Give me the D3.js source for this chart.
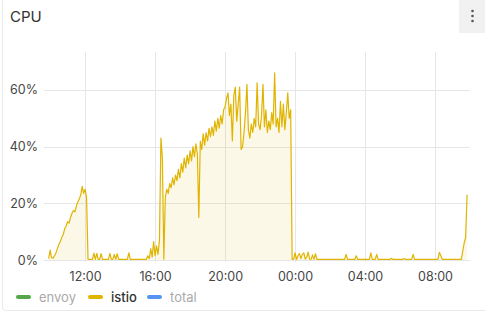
<!DOCTYPE html>
<html>
<head>
<meta charset="utf-8">
<script src="https://cdn.jsdelivr.net/npm/d3@7"></script>
<style>
  body { margin: 0; background: #fff; }
  svg { display: block; font-family: Inter, "Noto Sans", sans-serif; }
</style>
</head>
<body>
<svg id="chart" width="485" height="319"></svg>
<script>
// istio cpu, one value every 5 minutes, percent
var startTime = "2024-01-01T09:55";
var stepMinutes = 5;
var istio = [
  0.5,
  3.5, 0.8, 0.6, 1.5, 2.5, 4.0, 5.5, 6.5, 8.0, 9.0, 11.0, 12.0,           // 10h
  13.5, 13.0, 15.0, 16.5, 17.5, 17.0, 19.0, 20.5, 21.5, 23.0, 26.0, 23.5, // 11h
  25.0, 22.0, 0.3, 0.2, 0.2, 0.2, 2.4, 0.2, 2.3, 0.2, 0.2, 2.2,           // 12h
  0.2, 0.2, 0.2, 0.2, 0.2, 2.3, 0.2, 0.2, 2.0, 0.2, 2.2, 0.2,             // 13h
  0.2, 0.2, 0.2, 0.2, 0.2, 0.2, 2.5, 0.2, 0.2, 0.2, 0.2, 0.2,             // 14h
  0.2, 0.2, 0.2, 0.2, 0.2, 0.2, 0.2, 1.5, 0.5, 4.0, 1.0, 6.5,             // 15h
  1.5, 5.0, 2.0, 7.0, 43.0, 36.0, 0.3, 22.0, 25.0, 23.5, 27.0, 25.5,      // 16h
  29.0, 26.5, 30.0, 28.0, 32.0, 29.0, 34.0, 31.0, 36.0, 32.5, 37.0, 34.0, // 17h
  38.5, 35.0, 40.0, 36.5, 41.0, 37.5, 15.0, 42.0, 39.0, 44.5, 40.5, 45.0, // 18h
  42.0, 46.5, 43.5, 47.0, 44.0, 49.0, 45.5, 50.0, 46.5, 51.0, 48.0, 53.0, // 19h
  54.0, 57.0, 59.0, 51.0, 55.0, 42.0, 58.0, 61.0, 49.0, 55.0, 61.0, 39.0, // 20h
  40.0, 45.0, 52.0, 62.0, 46.0, 43.0, 48.0, 45.0, 50.0, 47.0, 62.5, 48.0, // 21h
  46.0, 51.0, 62.0, 47.0, 53.0, 45.0, 49.0, 46.0, 52.0, 48.0, 66.0, 47.0, // 22h
  50.0, 45.0, 56.0, 47.0, 55.0, 46.0, 52.0, 59.0, 50.0, 53.0, 0.3, 0.2,   // 23h
  2.5, 0.2, 1.5, 2.3, 0.5, 2.0, 2.5, 0.3, 1.0, 2.8, 0.3, 0.2,             // 00h
  1.8, 0.2, 2.2, 0.2, 0.2, 0.2, 0.2, 0.2, 0.2, 0.2, 0.2, 0.2,             // 01h
  0.2, 0.2, 0.2, 0.2, 0.2, 0.2, 0.2, 0.2, 0.2, 0.2, 0.2, 2.0,             // 02h
  0.2, 0.2, 0.2, 0.2, 0.2, 0.2, 1.5, 0.2, 0.2, 0.2, 0.2, 0.2,             // 03h
  0.2, 0.2, 0.2, 0.2, 2.5, 0.2, 0.2, 0.2, 2.0, 0.2, 0.2, 0.2,             // 04h
  0.2, 0.2, 0.2, 0.2, 0.2, 0.2, 0.6, 0.2, 0.2, 0.2, 0.2, 0.2,             // 05h
  0.2, 0.2, 0.2, 0.5, 0.2, 0.2, 0.2, 0.2, 0.2, 2.0, 0.2, 0.2,             // 06h
  0.2, 0.2, 0.2, 0.2, 0.2, 0.2, 0.2, 0.2, 0.2, 0.2, 0.2, 0.2,             // 07h
  0.2, 0.2, 0.2, 2.7, 1.5, 0.2, 0.2, 0.2, 0.2, 0.2, 0.2, 0.2,             // 08h
  0.2, 0.2, 0.2, 0.2, 0.2, 0.2, 0.2, 3.0, 6.0, 8.0, 23.0                  // 09h
];

var yTicks = [0, 20, 40, 60];
var xTickHours = ["12:00", "16:00", "20:00", "00:00", "04:00", "08:00"];
var seriesNames = ["envoy", "istio", "total"];
var seriesColors = ["#56a64b", "#e0b400", "#5794f2"];
var seriesShown = [false, true, false];

var svg = d3.select("#chart");
var W = 485, H = 319;

// panel
svg.append("rect")
  .attr("x", 2.5).attr("y", -5)
  .attr("width", W + 10).attr("height", 320.5 - 5)
  .attr("rx", 3)
  .style("fill", "#fff")
  .style("stroke", "#e9e9e9");

svg.append("text")
  .attr("x", 10).attr("y", 22)
  .style("font-size", "15px")
  .style("fill", "#333")
  .text("CPU");

// menu button
var menu = svg.append("g");
menu.append("rect")
  .attr("x", 459).attr("y", 0)
  .attr("width", 26).attr("height", 33)
  .style("fill", "#f1f1f1");
[11, 16, 21].forEach(function(cy) {
  menu.append("circle").attr("cx", 472.5).attr("cy", cy).attr("r", 1.3).style("fill", "#555");
});

var parse = d3.timeParse("%Y-%m-%dT%H:%M");
var t0 = parse(startTime);
var points = istio.map(function(v, i) {
  return { t: d3.timeMinute.offset(t0, i * stepMinutes), v: v };
});

var x = d3.scaleTime()
  .domain([parse("2024-01-01T09:39"), parse("2024-01-02T10:00")])
  .range([44, 470]);

var y = d3.scaleLinear()
  .domain([0, 73.4])
  .range([260, 52]);

var xTicks = xTickHours.map(function(h, i) {
  return parse((i < 3 ? "2024-01-01T" : "2024-01-02T") + h);
});

// grid
var grid = svg.append("g").style("stroke", "#e6e6e6").style("stroke-width", 1);
grid.selectAll("line.h").data(yTicks).enter().append("line")
  .attr("x1", 44).attr("x2", 470)
  .attr("y1", function(d) { return Math.round(y(d)) + 0.5; })
  .attr("y2", function(d) { return Math.round(y(d)) + 0.5; });
grid.selectAll("line.v").data(xTicks).enter().append("line")
  .attr("y1", 52).attr("y2", 262)
  .attr("x1", function(d) { return Math.round(x(d)) + 0.5; })
  .attr("x2", function(d) { return Math.round(x(d)) + 0.5; });

// axes
var yAxis = svg.append("g")
  .attr("transform", "translate(38,0)")
  .call(d3.axisLeft(y).tickValues(yTicks).tickSize(0).tickFormat(function(d) { return d + "%"; }));
yAxis.select(".domain").remove();
yAxis.selectAll("text")
  .attr("x", 0)
  .style("font-family", "Inter, sans-serif")
  .style("font-size", "12.5px")
  .style("fill", "#464646");

var xAxis = svg.append("g")
  .attr("transform", "translate(0,266)")
  .call(d3.axisBottom(x).tickValues(xTicks).tickSize(0).tickFormat(d3.timeFormat("%H:%M")));
xAxis.select(".domain").remove();
xAxis.selectAll("text")
  .attr("y", 6)
  .style("font-family", "Inter, sans-serif")
  .style("font-size", "12.5px")
  .style("fill", "#464646");

// series
var area = d3.area()
  .x(function(d) { return x(d.t); })
  .y0(y(0))
  .y1(function(d) { return y(d.v); });

var line = d3.line()
  .x(function(d) { return x(d.t); })
  .y(function(d) { return y(d.v); });

svg.append("path")
  .datum(points)
  .attr("d", area)
  .style("fill", "#e0b400")
  .style("fill-opacity", 0.09);

svg.append("path")
  .datum(points)
  .attr("d", line)
  .style("fill", "none")
  .style("stroke", "#e0b400")
  .style("stroke-width", 1.2)
  .style("stroke-linejoin", "round");

// legend
var legendX = [16, 88, 147];
var legend = svg.append("g").attr("transform", "translate(0,297)");
seriesNames.forEach(function(name, i) {
  legend.append("line")
    .attr("x1", legendX[i] + 2).attr("x2", legendX[i] + 13)
    .attr("y1", 0).attr("y2", 0)
    .style("stroke", seriesColors[i])
    .style("stroke-width", 4)
    .style("stroke-linecap", "round");
  legend.append("text")
    .attr("x", legendX[i] + 23).attr("y", 4.5)
    .style("font-size", "13px")
    .style("fill", seriesShown[i] ? "#333" : "#aaa")
    .style("font-weight", seriesShown[i] ? 500 : 400)
    .text(name);
});
</script>
</body>
</html>
